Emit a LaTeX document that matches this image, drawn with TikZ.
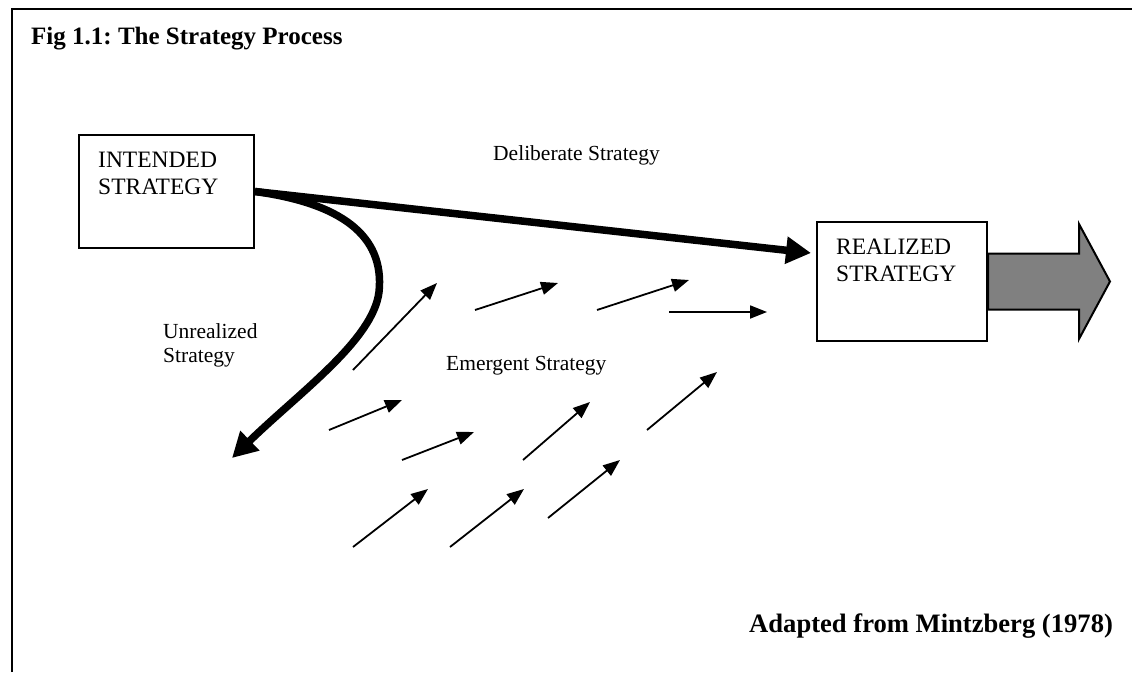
\documentclass[tikz,border=0pt]{standalone}
\usepackage{fontspec}
\setmainfont{Liberation Serif}
\frenchspacing
\usetikzlibrary{arrows.meta,positioning}
\tikzstyle{Box} = [draw, rectangle, line width=2pt, inner sep=0pt]
\tikzstyle{BoxText} = [inner sep=0pt, align=left, anchor=north west, font=\fontsize{23.5}{27}\selectfont]
\tikzstyle{Label} = [inner sep=0pt, align=left, font=\fontsize{21.5}{24.5}\selectfont]
\tikzstyle{Heading} = [inner sep=0pt, anchor=base west, font=\fontsize{25}{29}\selectfont\bfseries]
\tikzstyle{Thick} = [line width=7.5pt, -{Triangle[length=25pt,width=26pt]}]
\tikzstyle{Thin} = [line width=1.8pt, -{Triangle[length=17pt,width=13pt]}]

\begin{document}
\begin{tikzpicture}[x=1pt,y=-1pt]
    \useasboundingbox (0,0) rectangle (1132,672);
    \draw[line width=2pt] (11.5,672) -- (11.5,9) -- (1132,9);
    \node[Heading] (title) at (31,44) {Fig 1.1: The Strategy Process};

    \node[Box, minimum width=175pt, minimum height=113pt] (intended) at (166.5,191.5) {};
    \node[BoxText] (intendedtext) at ([shift={(20,18)}]intended.north west) {INTENDED\\STRATEGY};
    \node[Box, minimum width=170pt, minimum height=119pt] (realized) at (902,281.5) {};
    \node[BoxText] (realizedtext) at ([shift={(20,18)}]realized.north west) {REALIZED\\STRATEGY};

    % output arrow
    \draw[line width=2pt, fill=gray] (realized.east) ++(0,-28) -- ++(91,0) -- ++(0,-29.5)
        -- ++(31,57.5) -- ++(-31,57.5) -- ++(0,-29.5) -- ++(-91,0) -- cycle;

    \coordinate (deliberate) at ([shift={(-5,-28.5)}]realized.west);
    \coordinate (unrealized) at (232,458);
    \draw[Thick] (intended.east) -- (deliberate);
    \draw[Thick] (intended.east) .. controls (340,203) and (385,235) .. (379,292)
        .. controls (373,340) and (300,392) .. (unrealized);

    \node[Label, anchor=base west] (deliberatelabel) at (493,160) {Deliberate Strategy};
    \node[Label, anchor=north west] (unrealizedlabel) at (163,323) {Unrealized\\Strategy};
    \node[Label, anchor=base west] (emergentlabel) at (446,370) {Emergent Strategy};

    % emergent arrows
    \foreach \sx/\sy/\ex/\ey in {353/370/437/283, 475/310/558/283, 597/310/689/280,
        669/312/767/312, 329/430/402/400, 402/460/474/432, 523/460/590/402,
        647/430/717/372, 353/547/428/489, 450/547/524/489, 548/518/620/460}
        \draw[Thin] (\sx,\sy) -- (\ex,\ey);

    \node[Heading, font=\fontsize{26.6}{30}\selectfont\bfseries] (source) at (749,632) {Adapted from Mintzberg (1978)};
\end{tikzpicture}
\end{document}
